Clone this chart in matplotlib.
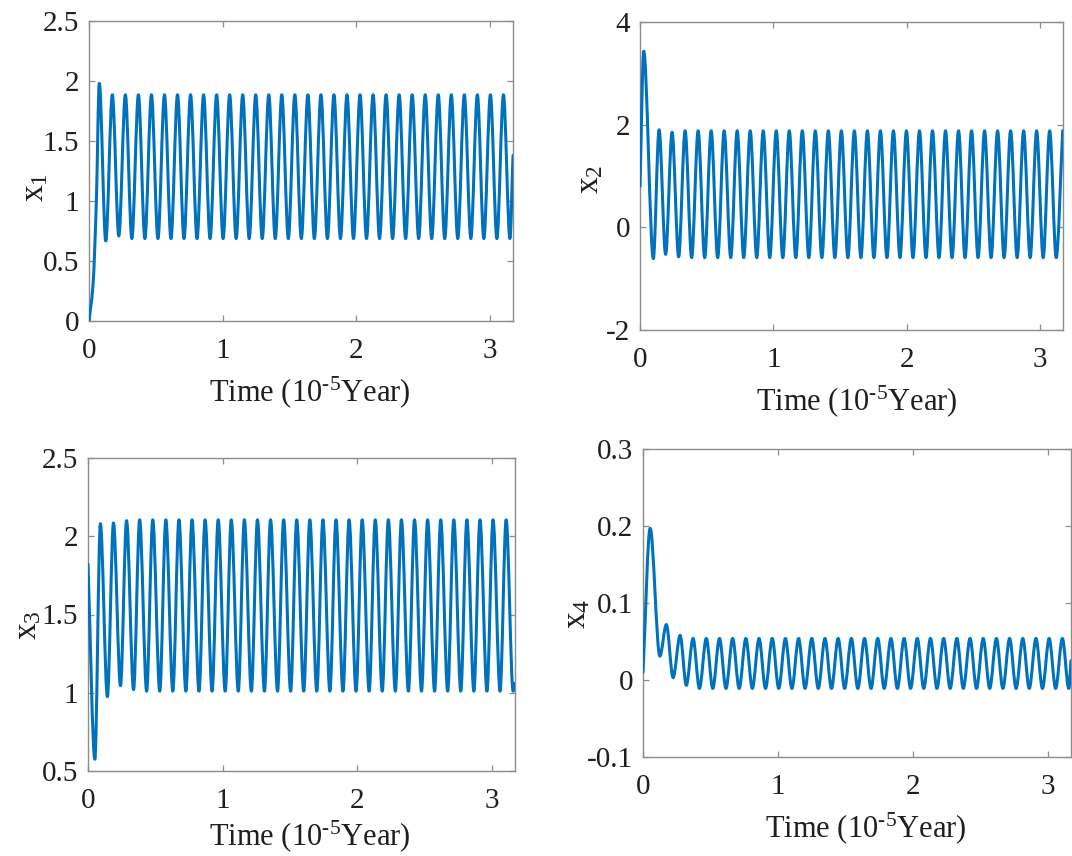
import numpy as np
import matplotlib
matplotlib.use("Agg")
import matplotlib.pyplot as plt
from matplotlib.path import Path
from matplotlib.patches import PathPatch

# ---------------------------------------------------------------------------
# Data: turning points (peaks / troughs) of each state variable.
# Time in units of 1e-5 year.
# ---------------------------------------------------------------------------
x1_time = [0.0, 0.030, 0.055,
           0.077, 0.1255,
           0.1745, 0.223,
           0.272, 0.3205,
           0.3695, 0.418,
           0.467, 0.5155,
           0.5645, 0.613,
           0.662, 0.7105,
           0.7595, 0.808,
           0.857, 0.9055,
           0.9545, 1.003,
           1.052, 1.1005,
           1.1495, 1.198,
           1.247, 1.2955,
           1.3445, 1.393,
           1.442, 1.4905,
           1.5395, 1.588,
           1.637, 1.6855,
           1.7345, 1.783,
           1.832, 1.8805,
           1.9295, 1.978,
           2.027, 2.0755,
           2.1245, 2.173,
           2.222, 2.2705,
           2.3195, 2.368,
           2.417, 2.4655,
           2.5145, 2.563,
           2.612, 2.6605,
           2.7095, 2.758,
           2.807, 2.8555,
           2.9045, 2.953,
           3.002, 3.0505,
           3.0995, 3.148,
           3.171]
x1_value = [0.0, 0.30, 1.00,
            1.98, 0.667,
            1.885, 0.709,
            1.885, 0.687, 1.885, 0.687, 1.885, 0.687, 1.885, 0.687, 1.885, 0.687,
            1.885, 0.687, 1.885, 0.687, 1.885, 0.687, 1.885, 0.687, 1.885, 0.687,
            1.885, 0.687, 1.885, 0.687, 1.885, 0.687, 1.885, 0.687, 1.885, 0.687,
            1.885, 0.687, 1.885, 0.687, 1.885, 0.687, 1.885, 0.687, 1.885, 0.687,
            1.885, 0.687, 1.885, 0.687, 1.885, 0.687, 1.885, 0.687, 1.885, 0.687,
            1.885, 0.687, 1.885, 0.687, 1.885, 0.687, 1.885, 0.687, 1.885, 0.687,
            1.38]

x2_time = [0.0, 0.028, 0.100,
           0.143, 0.192,
           0.2406, 0.2896,
           0.3382, 0.3872,
           0.4358, 0.4848,
           0.5334, 0.5824,
           0.631, 0.68,
           0.7286, 0.7776,
           0.8262, 0.8752,
           0.9238, 0.9728,
           1.0214, 1.0704,
           1.119, 1.168,
           1.2166, 1.2656,
           1.3142, 1.3632,
           1.4118, 1.4608,
           1.5094, 1.5584,
           1.607, 1.656,
           1.7046, 1.7536,
           1.8022, 1.8512,
           1.8998, 1.9488,
           1.9974, 2.0464,
           2.095, 2.144,
           2.1926, 2.2416,
           2.2902, 2.3392,
           2.3878, 2.4368,
           2.4854, 2.5344,
           2.583, 2.632,
           2.6806, 2.7296,
           2.7782, 2.8272,
           2.8758, 2.9248,
           2.9734, 3.0224,
           3.071, 3.12,
           3.1686]
x2_value = [0.80, 3.43, -0.61,
            1.90, -0.525,
            1.85, -0.575,
            1.88, -0.59, 1.88, -0.59, 1.88, -0.59, 1.88, -0.59, 1.88, -0.59,
            1.88, -0.59, 1.88, -0.59, 1.88, -0.59, 1.88, -0.59, 1.88, -0.59,
            1.88, -0.59, 1.88, -0.59, 1.88, -0.59, 1.88, -0.59, 1.88, -0.59,
            1.88, -0.59, 1.88, -0.59, 1.88, -0.59, 1.88, -0.59, 1.88, -0.59,
            1.88, -0.59, 1.88, -0.59, 1.88, -0.59, 1.88, -0.59, 1.88, -0.59,
            1.88, -0.59, 1.88, -0.59, 1.88, -0.59, 1.88, -0.59,
            1.88]

x3_time = [0.0, 0.051,
           0.092, 0.144,
           0.1892, 0.2412,
           0.2864, 0.3384,
           0.3836, 0.4356,
           0.4808, 0.5328,
           0.578, 0.63,
           0.6752, 0.7272,
           0.7724, 0.8244,
           0.8696, 0.9216,
           0.9668, 1.0188,
           1.064, 1.116,
           1.1612, 1.2132,
           1.2584, 1.3104,
           1.3556, 1.4076,
           1.4528, 1.5048,
           1.55, 1.602,
           1.6472, 1.6992,
           1.7444, 1.7964,
           1.8416, 1.8936,
           1.9388, 1.9908,
           2.036, 2.088,
           2.1332, 2.1852,
           2.2304, 2.2824,
           2.3276, 2.3796,
           2.4248, 2.4768,
           2.522, 2.574,
           2.6192, 2.6712,
           2.7164, 2.7684,
           2.8136, 2.8656,
           2.9108, 2.9628,
           3.008, 3.06,
           3.1052, 3.1572,
           3.171]
x3_value = [1.82, 0.575,
            2.08, 0.975,
            2.085, 1.045,
            2.10, 1.02,
            2.105, 1.01, 2.105, 1.01, 2.105, 1.01, 2.105, 1.01, 2.105, 1.01,
            2.105, 1.01, 2.105, 1.01, 2.105, 1.01, 2.105, 1.01, 2.105, 1.01,
            2.105, 1.01, 2.105, 1.01, 2.105, 1.01, 2.105, 1.01, 2.105, 1.01,
            2.105, 1.01, 2.105, 1.01, 2.105, 1.01, 2.105, 1.01, 2.105, 1.01,
            2.105, 1.01, 2.105, 1.01, 2.105, 1.01, 2.105, 1.01, 2.105, 1.01,
            2.105, 1.01, 2.105, 1.01, 2.105, 1.01, 2.105, 1.01,
            1.06]

x4_time = [0.0, 0.053, 0.125, 0.173, 0.223, 0.275, 0.321, 0.371, 0.418,
           0.469, 0.517,
           0.5667, 0.6147,
           0.6644, 0.7124,
           0.7621, 0.8101,
           0.8598, 0.9078,
           0.9575, 1.0055,
           1.0552, 1.1032,
           1.1529, 1.2009,
           1.2506, 1.2986,
           1.3483, 1.3963,
           1.446, 1.494,
           1.5437, 1.5917,
           1.6414, 1.6894,
           1.7391, 1.7871,
           1.8368, 1.8848,
           1.9345, 1.9825,
           2.0322, 2.0802,
           2.1299, 2.1779,
           2.2276, 2.2756,
           2.3253, 2.3733,
           2.423, 2.471,
           2.5207, 2.5687,
           2.6184, 2.6664,
           2.7161, 2.7641,
           2.8138, 2.8618,
           2.9115, 2.9595,
           3.0092, 3.0572,
           3.1069, 3.1549,
           3.171]
x4_value = [0.010, 0.197, 0.031, 0.072, 0.003, 0.058, -0.007, 0.054, -0.011,
            0.054, -0.011, 0.054, -0.011, 0.054, -0.011, 0.054, -0.011, 0.054, -0.011,
            0.054, -0.011, 0.054, -0.011, 0.054, -0.011, 0.054, -0.011, 0.054, -0.011,
            0.054, -0.011, 0.054, -0.011, 0.054, -0.011, 0.054, -0.011, 0.054, -0.011,
            0.054, -0.011, 0.054, -0.011, 0.054, -0.011, 0.054, -0.011, 0.054, -0.011,
            0.054, -0.011, 0.054, -0.011, 0.054, -0.011, 0.054, -0.011, 0.054, -0.011,
            0.054, -0.011, 0.054, -0.011, 0.054, -0.011,
            0.025]

x_ticks = [0, 1, 2, 3]
x_tick_labels = ["0", "1", "2", "3"]

x1_ticks = [0, 0.5, 1, 1.5, 2, 2.5]
x1_tick_labels = ["0", "0.5", "1", "1.5", "2", "2.5"]
x2_ticks = [-2, 0, 2, 4]
x2_tick_labels = ["-2", "0", "2", "4"]
x3_ticks = [0.5, 1, 1.5, 2, 2.5]
x3_tick_labels = ["0.5", "1", "1.5", "2", "2.5"]
x4_ticks = [-0.1, 0, 0.1, 0.2, 0.3]
x4_tick_labels = ["-0.1", "0", "0.1", "0.2", "0.3"]

T_END = 3.171

# ---------------------------------------------------------------------------
# Styling
# ---------------------------------------------------------------------------
plt.rcParams["font.family"] = ["Liberation Serif", "DejaVu Serif"]
plt.rcParams["mathtext.fontset"] = "custom"
plt.rcParams["mathtext.rm"] = "Liberation Serif"
plt.rcParams["mathtext.it"] = "Liberation Serif:italic"
plt.rcParams["mathtext.bf"] = "Liberation Serif:bold"
plt.rcParams["axes.unicode_minus"] = False

LINE_COLOR = "#0072BD"
SPINE_COLOR = "#8c8c8c"
TEXT_COLOR = "#1f1f1f"

W, H = 1072, 856


def smooth_path(t, v):
    """Piecewise cubic (shape preserving) Bezier path through the points."""
    t = np.asarray(t, float)
    v = np.asarray(v, float)
    h = np.diff(t)
    d = np.diff(v) / h
    m = np.zeros_like(v)
    for i in range(1, len(v) - 1):
        if d[i - 1] * d[i] > 0:
            w1 = 2 * h[i] + h[i - 1]
            w2 = h[i] + 2 * h[i - 1]
            m[i] = (w1 + w2) / (w1 / d[i - 1] + w2 / d[i])
    m[0] = d[0]
    m[-1] = d[-1]
    verts = [(t[0], v[0])]
    codes = [Path.MOVETO]
    for i in range(len(v) - 1):
        verts.append((t[i] + h[i] / 3, v[i] + m[i] * h[i] / 3))
        verts.append((t[i + 1] - h[i] / 3, v[i + 1] - m[i + 1] * h[i] / 3))
        verts.append((t[i + 1], v[i + 1]))
        codes += [Path.CURVE4] * 3
    return Path(verts, codes)


panels = [
    dict(t=x1_time, v=x1_value, ylim=(0, 2.5), yt=x1_ticks, ytl=x1_tick_labels,
         name=r"$\mathrm{x}_{1}$", box=(89, 21, 513, 321),
         ylab_xy=(50, 187), xlab_xy=(310, 374)),
    dict(t=x2_time, v=x2_value, ylim=(-2, 4), yt=x2_ticks, ytl=x2_tick_labels,
         name=r"$\mathrm{x}_{2}$", box=(640, 22, 1063, 330),
         ylab_xy=(605, 179), xlab_xy=(857, 383)),
    dict(t=x3_time, v=x3_value, ylim=(0.5, 2.5), yt=x3_ticks, ytl=x3_tick_labels,
         name=r"$\mathrm{x}_{3}$", box=(88, 458, 515, 771),
         ylab_xy=(43, 625), xlab_xy=(310, 818)),
    dict(t=x4_time, v=x4_value, ylim=(-0.1, 0.3), yt=x4_ticks, ytl=x4_tick_labels,
         name=r"$\mathrm{x}_{4}$", box=(643, 449, 1071, 757),
         ylab_xy=(592, 614), xlab_xy=(866, 810)),
]

fig = plt.figure(figsize=(W / 100, H / 100), dpi=100)
fig.patch.set_facecolor("white")

for p in panels:
    l, t, r, b = p["box"]
    ax = fig.add_axes([l / W, 1 - b / H, (r - l) / W, (b - t) / H])
    ax.add_patch(PathPatch(smooth_path(p["t"], p["v"]), fill=False,
                           edgecolor=LINE_COLOR, linewidth=2.2,
                           capstyle="round", joinstyle="round", zorder=3))
    ax.set_xlim(0, T_END)
    ax.set_ylim(*p["ylim"])
    ax.set_xticks(x_ticks, x_tick_labels)
    ax.set_yticks(p["yt"], p["ytl"])
    for s in ax.spines.values():
        s.set_color(SPINE_COLOR)
        s.set_linewidth(1.0)
    ax.tick_params(direction="in", length=4, width=0.9, color=SPINE_COLOR,
                   top=True, right=True, labelsize=21, labelcolor=TEXT_COLOR)
    ax.tick_params(axis="x", pad=12)
    ax.tick_params(axis="y", pad=7)

    ax.set_xlabel(r"Time (10$^{\text{-5}}$Year)", fontsize=22, color=TEXT_COLOR)
    ax.set_ylabel(p["name"], fontsize=24, color=TEXT_COLOR)
    xlx, xly = p["xlab_xy"]
    ax.xaxis.set_label_coords((xlx - l) / (r - l), (b - xly) / (b - t))
    ylx, yly = p["ylab_xy"]
    ax.yaxis.set_label_coords((ylx - l) / (r - l), (b - yly) / (b - t))

fig.savefig("out.png", dpi=100, facecolor="white")
